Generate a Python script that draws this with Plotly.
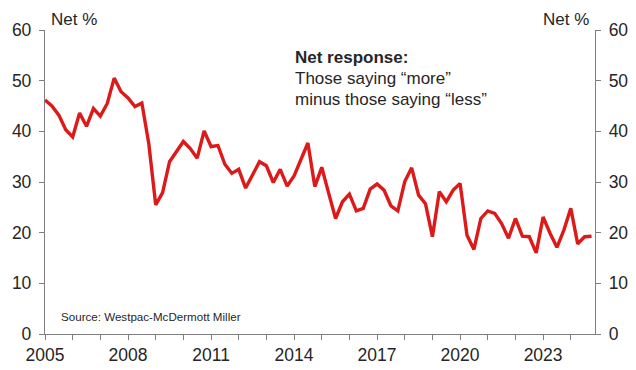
import plotly.graph_objects as go

# Quarterly net response, 2005 Q1 onward
start_year = 2005
net_response = [
    46.2, 45.0, 43.2, 40.3, 38.9, 43.6, 41.0, 44.5, 43.0, 45.5,
    50.5, 47.8, 46.6, 44.9, 45.6, 37.6, 25.5, 27.9, 34.0, 36.0,
    38.0, 36.6, 34.7, 40.1, 37.0, 37.2, 33.5, 31.7, 32.5, 28.8,
    31.4, 34.0, 33.2, 29.9, 32.5, 29.2, 31.2, 34.3, 37.7, 29.1,
    32.9, 27.8, 22.8, 26.1, 27.6, 24.3, 24.8, 28.6, 29.6, 28.4,
    25.3, 24.3, 30.1, 32.8, 27.4, 25.7, 19.2, 28.1, 26.1, 28.4,
    29.7, 19.5, 16.7, 22.8, 24.3, 23.8, 21.8, 18.9, 22.8, 19.3,
    19.2, 16.0, 23.1, 19.9, 17.1, 20.5, 24.8, 17.8, 19.2, 19.3,
]
dates = [start_year + i * 0.25 for i in range(len(net_response))]

year_ticks = list(range(2005, 2025))
year_labels = [str(y) if (y - 2005) % 3 == 0 else "" for y in year_ticks]
y_ticks = [0, 10, 20, 30, 40, 50, 60]

FONT = "Liberation Sans, Arial, sans-serif"
AXIS_GREY = "#7f7f7f"
TEXT = "#262626"

fig = go.Figure()
fig.add_trace(go.Scatter(
    x=dates, y=net_response, mode="lines",
    line=dict(color="#DC1A1A", width=3.4),
    hoverinfo="skip", showlegend=False,
))
# invisible twin for the right-hand axis
fig.add_trace(go.Scatter(
    x=[dates[0]], y=[net_response[0]], yaxis="y2", mode="lines",
    line=dict(width=0), hoverinfo="skip", showlegend=False,
))

axis_common = dict(
    range=[0, 60], tickvals=y_ticks, showgrid=False, zeroline=False,
    showline=True, linecolor=AXIS_GREY, linewidth=1.3, automargin=False,
    ticks="outside", ticklen=5, tickcolor=AXIS_GREY, tickwidth=1.3,
    tickfont=dict(family=FONT, size=17.5, color=TEXT),
)

fig.update_layout(
    width=636, height=370,
    margin=dict(l=45, r=41, t=30, b=36),
    paper_bgcolor="white", plot_bgcolor="white",
    xaxis=dict(
        range=[2005, 2024.875], tickvals=year_ticks, ticktext=year_labels,
        showgrid=False, zeroline=False, showline=True, automargin=False,
        linecolor=AXIS_GREY, linewidth=1.3,
        ticks="outside", ticklen=5, tickcolor=AXIS_GREY, tickwidth=1.3,
        tickfont=dict(family=FONT, size=17.5, color=TEXT),
    ),
    yaxis=dict(side="left", ticklabelstandoff=4, **axis_common),
    yaxis2=dict(side="right", overlaying="y", ticklabelstandoff=4, **axis_common),
)

ann = dict(xref="paper", yref="paper", showarrow=False,
           font=dict(family=FONT, size=17, color=TEXT))
fig.add_annotation(text="Net %", x=0.007, y=1.036, xanchor="left", yanchor="middle", **ann)
fig.add_annotation(text="Net %", x=0.993, y=1.036, xanchor="right", yanchor="middle", **ann)
fig.add_annotation(text="<b>Net response:</b>", x=0.451, y=0.908,
                   xanchor="left", yanchor="middle", **ann)
fig.add_annotation(text="Those saying \u201cmore\u201d", x=0.451, y=0.842,
                   xanchor="left", yanchor="middle", **ann)
fig.add_annotation(text="minus those saying \u201cless\u201d", x=0.451, y=0.773,
                   xanchor="left", yanchor="middle", **ann)
fig.add_annotation(text="Source: Westpac-McDermott Miller", x=0.025, y=0.059,
                   xanchor="left", yanchor="middle", xref="paper", yref="paper",
                   showarrow=False, font=dict(family=FONT, size=11.6, color=TEXT))

fig.write_html("out.html")
